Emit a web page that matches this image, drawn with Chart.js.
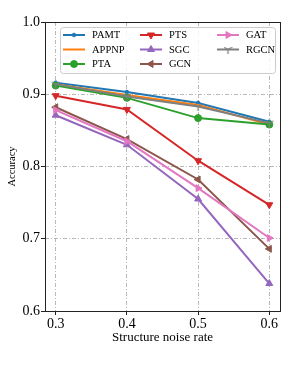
<!DOCTYPE html>
<html>
<head>
<meta charset="utf-8">
<script src="https://cdn.jsdelivr.net/npm/chart.js@4.4.0/dist/chart.umd.min.js"></script>
<style>
  html, body { margin: 0; padding: 0; background: #fff; }
</style>
</head>
<body>
<canvas id="chart" width="305" height="366"></canvas>
<script>
// data
const noiseRates = [0.3, 0.4, 0.5, 0.6];
const xTicks = [0.3, 0.4, 0.5, 0.6];
const yTicks = [0.6, 0.7, 0.8, 0.9, 1.0];

const pamt = [0.916, 0.903, 0.888, 0.862];
const appnp = [0.914, 0.899, 0.885, 0.858];
const pta = [0.912, 0.895, 0.867, 0.858];
const pts = [0.898, 0.879, 0.808, 0.747];
const sgc = [0.871, 0.830, 0.755, 0.638];
const gcn = [0.882, 0.838, 0.782, 0.686];
const gat = [0.878, 0.835, 0.770, 0.701];
const rgcn = [0.914, 0.897, 0.883, 0.860];

const serif = "'Liberation Serif', 'DejaVu Serif', serif";

// matplotlib "1" marker (tri_down)
function triDown(size, color) {
  const c = document.createElement("canvas");
  c.width = size;
  c.height = size;
  const g = c.getContext("2d");
  const r = size / 2;
  g.strokeStyle = color;
  g.lineWidth = 1.3;
  g.beginPath();
  g.moveTo(r, r); g.lineTo(r, r + r);
  g.moveTo(r, r); g.lineTo(r - 0.866 * r, r - 0.5 * r);
  g.moveTo(r, r); g.lineTo(r + 0.866 * r, r - 0.5 * r);
  g.stroke();
  return c;
}

const series = [
  { label: "PAMT", values: pamt, color: "#1f77b4", style: "circle", radius: 1.8, rot: 0 },
  { label: "APPNP", values: appnp, color: "#ff7f0e", style: "circle", radius: 0, rot: 0 },
  { label: "PTA", values: pta, color: "#2ca02c", style: "circle", radius: 3.5, rot: 0 },
  { label: "PTS", values: pts, color: "#d62728", style: "triangle", radius: 4, rot: 180 },
  { label: "SGC", values: sgc, color: "#9467bd", style: "triangle", radius: 4, rot: 0 },
  { label: "GCN", values: gcn, color: "#8c564b", style: "triangle", radius: 4, rot: 270 },
  { label: "GAT", values: gat, color: "#e377c2", style: "triangle", radius: 4, rot: 90 },
  { label: "RGCN", values: rgcn, color: "#7f7f7f", style: triDown(9, "#7f7f7f"), radius: 4.5, rot: 0 },
];

const datasets = series.map((s, i) => ({
  label: s.label,
  data: noiseRates.map((x, j) => ({ x: x, y: s.values[j] })),
  borderColor: s.color,
  backgroundColor: s.color,
  borderWidth: 2,
  pointStyle: s.style,
  pointRadius: s.radius,
  pointRotation: s.rot,
  pointBorderWidth: 1,
  // later series on top, like matplotlib
  order: series.length - i,
}));

// full box round the axes
const frame = {
  id: "frame",
  afterDatasetsDraw(chart) {
    const { ctx, chartArea: a } = chart;
    ctx.save();
    ctx.strokeStyle = "#222";
    ctx.lineWidth = 1;
    ctx.strokeRect(a.left + 0.5, a.top + 0.5, a.right - a.left, a.bottom - a.top);
    ctx.restore();
  },
};

// matplotlib style legend, 3 columns
const legendBox = {
  id: "legendBox",
  afterDraw(chart) {
    const { ctx, chartArea: a } = chart;
    const left = a.left + 15;
    const top = a.top + 5;
    const w = 215;
    const h = 46;
    ctx.save();
    ctx.fillStyle = "rgba(255,255,255,0.85)";
    ctx.strokeStyle = "#cccccc";
    ctx.lineWidth = 1;
    ctx.beginPath();
    ctx.roundRect(left + 0.5, top + 0.5, w, h, 3);
    ctx.fill();
    ctx.stroke();

    ctx.font = "10.5px " + serif;
    ctx.textBaseline = "middle";
    series.forEach((s, i) => {
      const col = Math.floor(i / 3);
      const row = i % 3;
      const x0 = left + 3 + col * 77;
      const y = top + 8 + row * 14.5;
      ctx.strokeStyle = s.color;
      ctx.lineWidth = 2;
      ctx.beginPath();
      ctx.moveTo(x0, y);
      ctx.lineTo(x0 + 22, y);
      ctx.stroke();
      if (s.radius > 0) {
        ctx.fillStyle = s.color;
        ctx.lineWidth = 1;
        Chart.helpers.drawPoint(ctx, {
          pointStyle: s.style, rotation: s.rot, radius: s.radius, borderWidth: 1,
        }, x0 + 11, y);
      }
      ctx.fillStyle = "#000";
      ctx.fillText(s.label, x0 + 29, y + 0.5);
    });
    ctx.restore();
  },
};

const gridLook = {
  color: "rgba(176,176,176,0.9)",
  lineWidth: 1,
  tickColor: "#222",
  tickLength: 4,
  tickWidth: 1,
  tickBorderDash: [],
};

const config = {
  type: "line",
  data: { datasets },
  options: {
    responsive: false,
    animation: false,
    layout: { padding: { left: 0, right: 25, top: 22, bottom: 20 } },
    plugins: { legend: { display: false }, tooltip: { enabled: false } },
    scales: {
      x: {
        type: "linear",
        min: 0.285,
        max: 0.615,
        afterBuildTicks: (scale) => { scale.ticks = xTicks.map((v) => ({ value: v })); },
        afterFit: (scale) => { scale.height = 35; },
        grid: gridLook,
        border: { display: false, dash: [4, 2, 1, 2] },
        ticks: {
          color: "#000",
          padding: 1,
          maxRotation: 0,
          font: { family: serif, size: 14 },
          callback: (v) => v.toFixed(1),
        },
        title: {
          display: true,
          text: "Structure noise rate",
          color: "#000",
          font: { family: serif, size: 13 },
          padding: { top: 0, bottom: 1 },
        },
      },
      y: {
        min: 0.6,
        max: 1.0,
        afterBuildTicks: (scale) => { scale.ticks = yTicks.map((v) => ({ value: v })); },
        afterFit: (scale) => { scale.width = 45; },
        grid: gridLook,
        border: { display: false, dash: [4, 2, 1, 2] },
        ticks: {
          color: "#000",
          padding: 1,
          font: { family: serif, size: 14 },
          callback: (v) => v.toFixed(1),
        },
        title: {
          display: true,
          text: "Accuracy",
          color: "#000",
          font: { family: serif, size: 10.5 },
          padding: { top: 6, bottom: 0 },
        },
      },
    },
  },
  plugins: [frame, legendBox],
};

const lineChart = new Chart(document.querySelector("#chart"), config);
</script>
</body>
</html>
